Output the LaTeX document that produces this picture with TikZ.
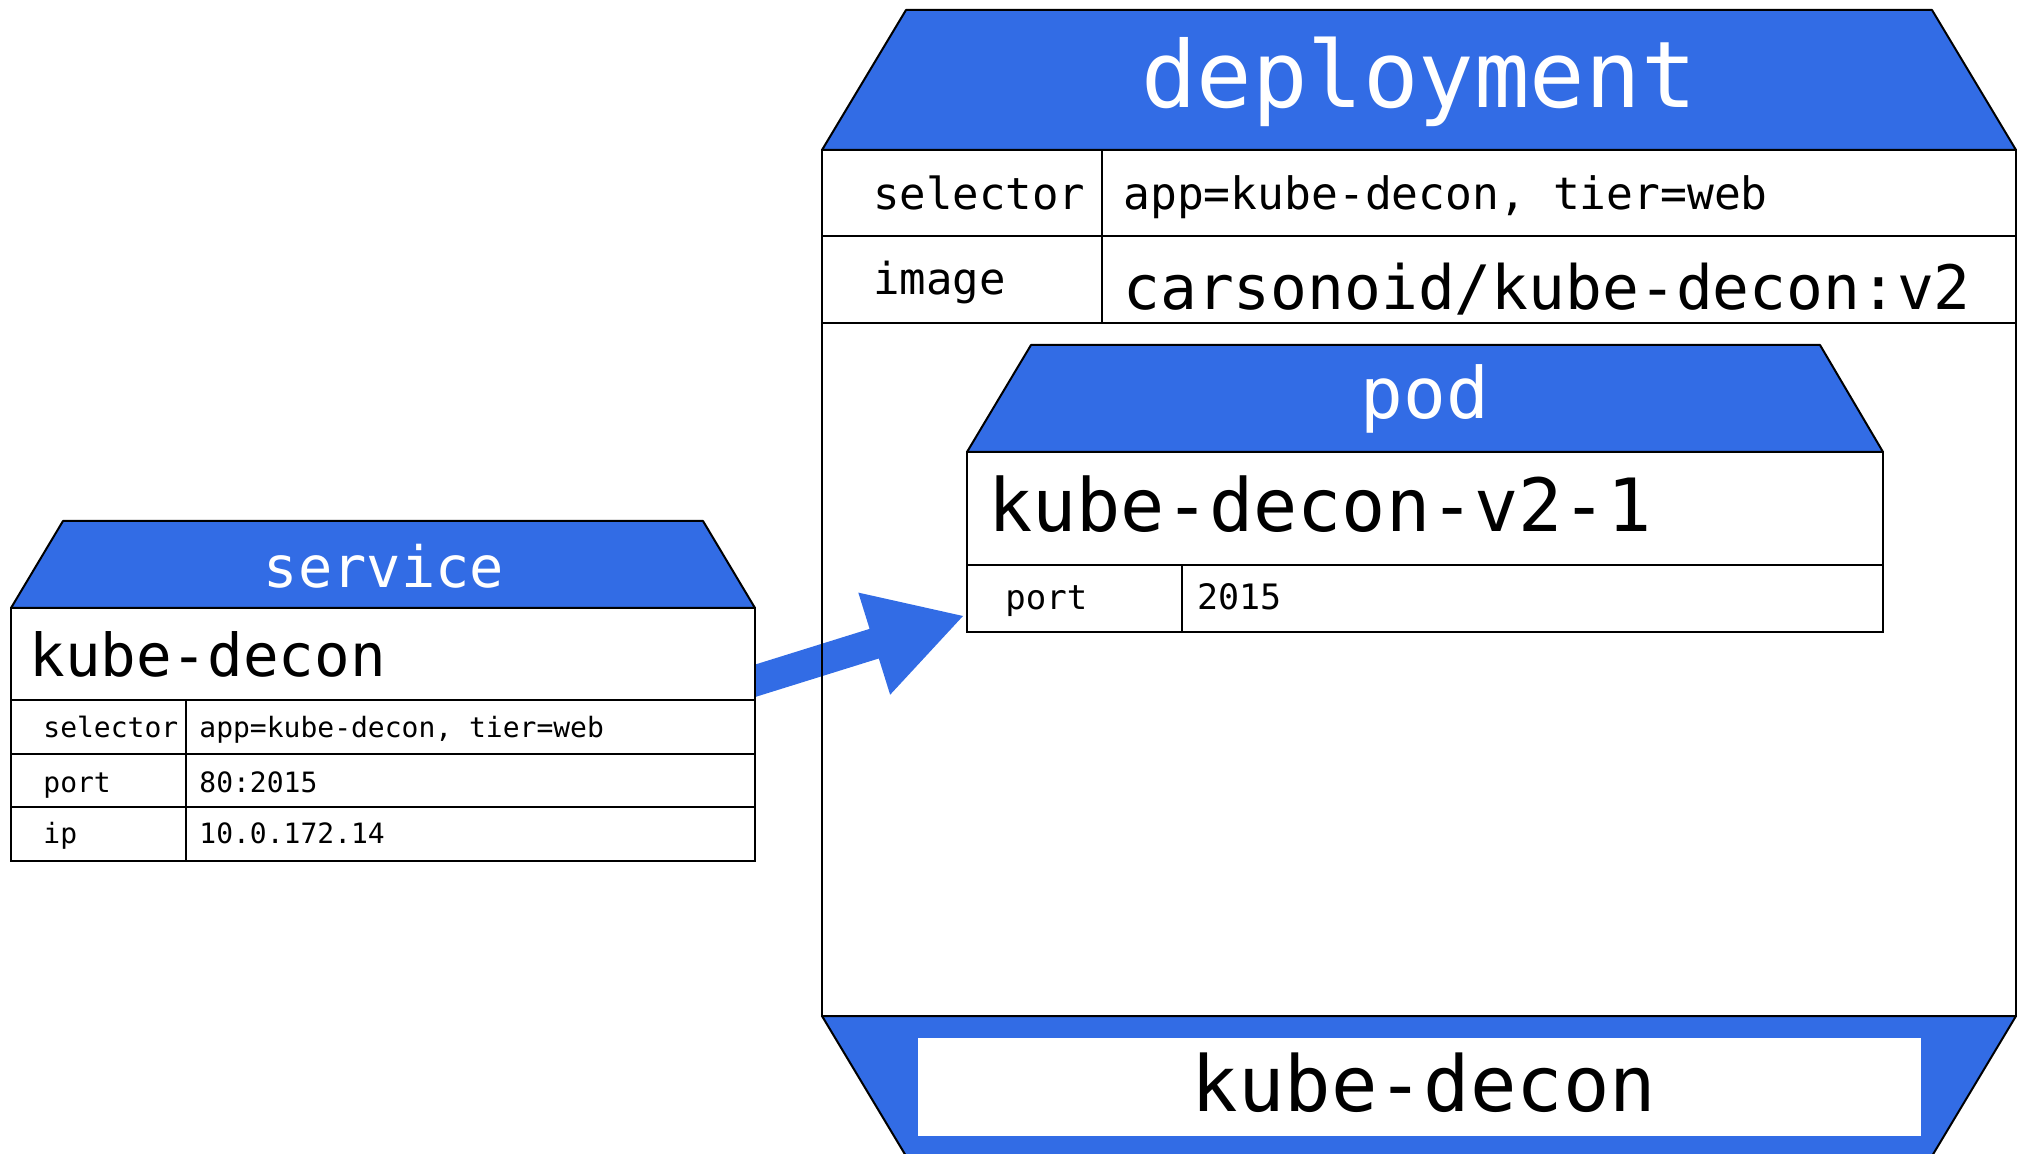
\documentclass[tikz,border=0pt]{standalone}
\usepackage{fontspec}
\setmonofont{DejaVu Sans Mono}
\usetikzlibrary{calc}
\definecolor{kblue}{HTML}{326CE5}
\newcommand\myfs[1]{\fontsize{#1}{#1}\selectfont}
\begin{document}
\begin{tikzpicture}[x=0.5pt,y=-0.5pt,
  hdr/.style={fill=kblue,draw=black,line width=1pt,line join=round},
  cellbox/.style={fill=white,draw=black,line width=1pt},
  rule/.style={draw=black,line width=1pt},
  txt/.style={inner sep=0pt,font=\ttfamily,anchor=base west},
  htxt/.style={inner sep=0pt,font=\ttfamily,anchor=base,text=white},
  arrowfill/.style={fill=kblue}]
\useasboundingbox (0,0) rectangle (2024,1154);
\clip (0,0) rectangle (2024,1154);

% ---- arrow (service -> pod) ----
\coordinate (arrS) at (740,685.5);
\coordinate (arrT) at (963,616);
\coordinate (arrB) at ($(arrT)!46.5pt!(arrS)$);
\fill[arrowfill] ($(arrS)!7.75pt!90:(arrT)$) -- ($(arrB)!7.75pt!-90:(arrS)$)
  -- ($(arrB)!26.75pt!-90:(arrS)$) -- (arrT) -- ($(arrB)!26.75pt!90:(arrS)$)
  -- ($(arrB)!7.75pt!90:(arrS)$) -- ($(arrS)!7.75pt!-90:(arrT)$) -- cycle;

% ---- deployment ----
\path[hdr] (906,10) -- (1932,10) -- (2016,150) -- (822,150) -- cycle;
\path[rule] (822,150) rectangle (2016,1016);
\path[rule] (822,236) -- (2016,236);
\path[rule] (822,323) -- (2016,323);
\path[rule] (1102,150) -- (1102,323);
\path[hdr] (822,1016) -- (2016,1016) -- (1932,1156) -- (906,1156) -- cycle;
\fill[white] (918,1038) rectangle (1921,1136);

% ---- pod ----
\path[hdr] (1031,345) -- (1820,345) -- (1883,452) -- (967,452) -- cycle;
\path[cellbox] (967,452) rectangle (1883,565);
\path[cellbox] (967,565) rectangle (1883,632);
\path[rule] (1182,565) -- (1182,632);

% ---- service ----
\path[hdr] (63,521) -- (703,521) -- (755,608) -- (11,608) -- cycle;
\path[cellbox] (11,608) rectangle (755,700);
\path[cellbox] (11,700) rectangle (755,754);
\path[cellbox] (11,754) rectangle (755,807);
\path[cellbox] (11,807) rectangle (755,861);
\path[rule] (186,700) -- (186,861);

% ---- texts ----
\node[htxt,font=\ttfamily\myfs{46.1pt}] (depTitle) at (1419,108) {deployment};
\node[txt,font=\ttfamily\myfs{22pt}] (depSelK) at (873,210) {selector};
\node[txt,font=\ttfamily\myfs{22.3pt}] (depSelV) at (1123,210) {app=kube-decon, tier=web};
\node[txt,font=\ttfamily\myfs{22pt}] (depImgK) at (873,295) {image};
\node[txt,font=\ttfamily\myfs{30.6pt}] (depImgV) at (1123,310) {carsonoid/kube-decon:v2};
\node[inner sep=0pt,anchor=base,font=\ttfamily\myfs{38.6pt}] (depName) at (1424,1111) {kube-decon};

\node[htxt,font=\ttfamily\myfs{35.5pt}] (podTitle) at (1425,419) {pod};
\node[txt,font=\ttfamily\myfs{36.7pt}] (podName) at (988,532) {kube-decon-v2-1};
\node[txt,font=\ttfamily\myfs{17pt}] (podPortK) at (1005,610) {port};
\node[txt,font=\ttfamily\myfs{17.5pt}] (podPortV) at (1197,610) {2015};

\node[htxt,font=\ttfamily\myfs{28.5pt}] (svcTitle) at (384,588) {service};
\node[txt,font=\ttfamily\myfs{29.6pt}] (svcName) at (29,676) {kube-decon};
\node[txt,font=\ttfamily\myfs{14pt}] (svcSelK) at (43,737) {selector};
\node[txt,font=\ttfamily\myfs{14pt}] (svcSelV) at (199,737) {app=kube-decon, tier=web};
\node[txt,font=\ttfamily\myfs{14pt}] (svcPortK) at (43,792) {port};
\node[txt,font=\ttfamily\myfs{14pt}] (svcPortV) at (199,792) {80:2015};
\node[txt,font=\ttfamily\myfs{14pt}] (svcIpK) at (43,843) {ip};
\node[txt,font=\ttfamily\myfs{14pt}] (svcIpV) at (199,843) {10.0.172.14};
\end{tikzpicture}
\end{document}
